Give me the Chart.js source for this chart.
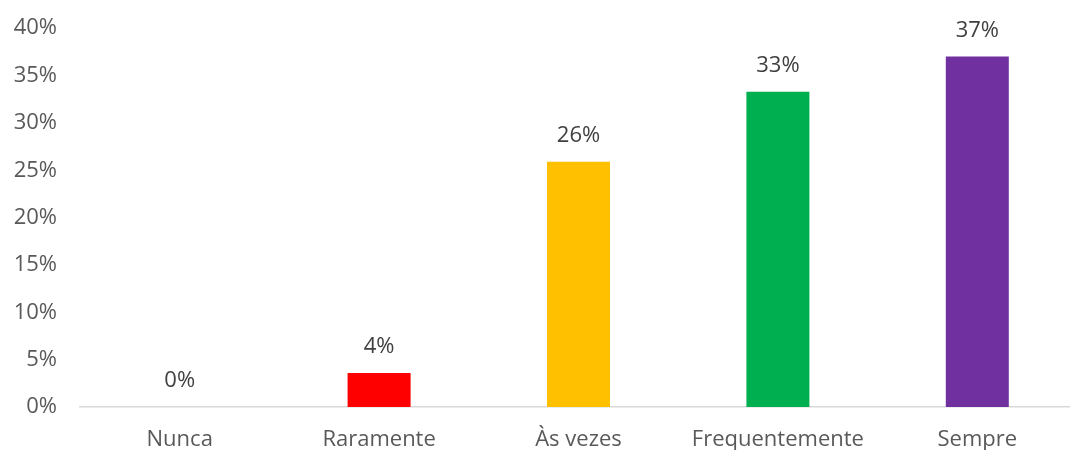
<!DOCTYPE html>
<html>
<head>
<meta charset="utf-8">
<script src="https://cdn.jsdelivr.net/npm/chart.js@4"></script>
<style>
  html, body { margin: 0; padding: 0; background: #fff; overflow: hidden; }
  #wrap { width: 1077px; height: 450px; }
</style>
</head>
<body>
<div id="wrap"><canvas id="chart"></canvas></div>
<script>
// === DATA ===
const categories = ["Nunca", "Raramente", "Às vezes", "Frequentemente", "Sempre"];
const values = [0, 3.6, 25.9, 33.3, 37.0];
const valueLabels = ["0%", "4%", "26%", "33%", "37%"];
const barColors = ["#4472c4", "#ff0000", "#ffc000", "#00b050", "#7030a0"];

const FONT = "'Open Sans', 'Liberation Sans', sans-serif";

// draws the percentage above each bar
const barLabels = {
    id: "barLabels",
    afterDatasetsDraw(chart) {
        const ctx = chart.ctx;
        const meta = chart.getDatasetMeta(0);
        ctx.save();
        ctx.font = "22px " + FONT;
        ctx.fillStyle = "#404040";
        ctx.textAlign = "center";
        ctx.textBaseline = "middle";
        meta.data.forEach((bar, i) => {
            ctx.fillText(valueLabels[i], bar.x, bar.y - 26);
        });
        ctx.restore();
    },
};

new Chart(document.getElementById("chart"), {
    type: "bar",
    data: {
        labels: categories,
        datasets: [
            {
                data: values,
                backgroundColor: barColors,
                borderWidth: 0,
                barPercentage: 1,
                categoryPercentage: 0.316,
            },
        ],
    },
    options: {
        responsive: true,
        maintainAspectRatio: false,
        animation: false,
        layout: { padding: { top: 0, right: 0, left: 0, bottom: 0 } },
        plugins: { legend: { display: false }, tooltip: { enabled: false } },
        scales: {
            y: {
                min: 0,
                max: 40,
                ticks: {
                    stepSize: 5,
                    padding: 15,
                    color: "#595959",
                    font: { family: FONT, size: 22 },
                    callback: (v) => v + "%",
                },
                grid: { display: false },
                border: { display: false },
                afterFit: (axis) => { axis.width = 80; },
            },
            x: {
                ticks: {
                    padding: 12,
                    color: "#595959",
                    font: { family: FONT, size: 22 },
                },
                grid: { display: false },
                border: { display: true, color: "#d9d9d9", width: 1.5 },
                afterFit: (axis) => { axis.height = 43; },
            },
        },
    },
    plugins: [barLabels],
});
</script>
</body>
</html>
